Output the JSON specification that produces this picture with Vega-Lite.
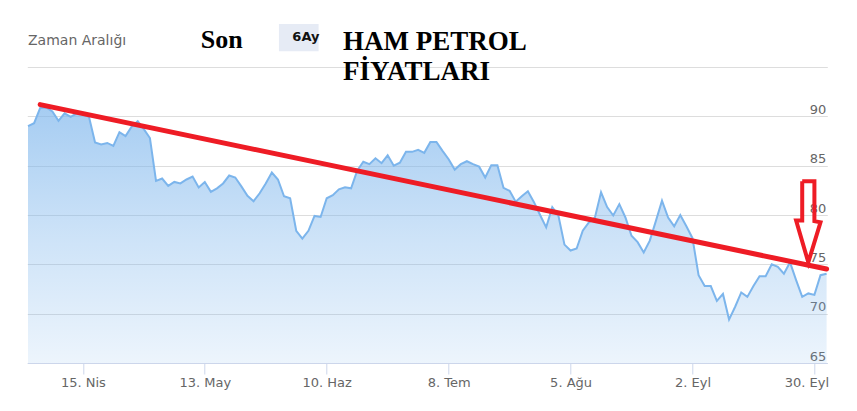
{
  "$schema": "https://vega.github.io/schema/vega-lite/v6.json",
  "width": 800,
  "height": 296,
  "autosize": "none",
  "padding": {"left": 27.3, "top": 67, "right": 29.7, "bottom": 48},
  "background": "white",
  "config": {"view": {"stroke": null}, "font": "DejaVu Sans"},
  "datasets": {
    "brent": [
      {"date": "2024-04-02", "price": 89.0}, {"date": "2024-04-03", "price": 89.3}, {"date": "2024-04-04", "price": 90.85}, {"date": "2024-04-05", "price": 90.9},
      {"date": "2024-04-08", "price": 90.5}, {"date": "2024-04-09", "price": 89.55}, {"date": "2024-04-10", "price": 90.3}, {"date": "2024-04-11", "price": 89.95}, {"date": "2024-04-12", "price": 90.3},
      {"date": "2024-04-15", "price": 90.2}, {"date": "2024-04-16", "price": 89.95}, {"date": "2024-04-17", "price": 87.35}, {"date": "2024-04-18", "price": 87.15}, {"date": "2024-04-19", "price": 87.3},
      {"date": "2024-04-22", "price": 87.0}, {"date": "2024-04-23", "price": 88.4}, {"date": "2024-04-24", "price": 88.0}, {"date": "2024-04-25", "price": 88.95}, {"date": "2024-04-26", "price": 89.5},
      {"date": "2024-04-29", "price": 88.7}, {"date": "2024-04-30", "price": 87.8}, {"date": "2024-05-01", "price": 83.45}, {"date": "2024-05-02", "price": 83.7}, {"date": "2024-05-03", "price": 82.95},
      {"date": "2024-05-06", "price": 83.35}, {"date": "2024-05-07", "price": 83.2}, {"date": "2024-05-08", "price": 83.6}, {"date": "2024-05-09", "price": 83.9}, {"date": "2024-05-10", "price": 82.8},
      {"date": "2024-05-13", "price": 83.35}, {"date": "2024-05-14", "price": 82.35}, {"date": "2024-05-15", "price": 82.7}, {"date": "2024-05-16", "price": 83.2}, {"date": "2024-05-17", "price": 84.0},
      {"date": "2024-05-20", "price": 83.8}, {"date": "2024-05-21", "price": 82.9}, {"date": "2024-05-22", "price": 81.95}, {"date": "2024-05-23", "price": 81.4}, {"date": "2024-05-24", "price": 82.2},
      {"date": "2024-05-27", "price": 83.2}, {"date": "2024-05-28", "price": 84.3}, {"date": "2024-05-29", "price": 83.6}, {"date": "2024-05-30", "price": 81.9}, {"date": "2024-05-31", "price": 81.7},
      {"date": "2024-06-03", "price": 78.4}, {"date": "2024-06-04", "price": 77.6}, {"date": "2024-06-05", "price": 78.4}, {"date": "2024-06-06", "price": 79.9}, {"date": "2024-06-07", "price": 79.8},
      {"date": "2024-06-10", "price": 81.7}, {"date": "2024-06-11", "price": 82.0}, {"date": "2024-06-12", "price": 82.6}, {"date": "2024-06-13", "price": 82.8}, {"date": "2024-06-14", "price": 82.7},
      {"date": "2024-06-17", "price": 84.5}, {"date": "2024-06-18", "price": 85.4}, {"date": "2024-06-19", "price": 85.15}, {"date": "2024-06-20", "price": 85.75}, {"date": "2024-06-21", "price": 85.25},
      {"date": "2024-06-24", "price": 86.05}, {"date": "2024-06-25", "price": 85.0}, {"date": "2024-06-26", "price": 85.3}, {"date": "2024-06-27", "price": 86.4}, {"date": "2024-06-28", "price": 86.4},
      {"date": "2024-07-01", "price": 86.6}, {"date": "2024-07-02", "price": 86.3}, {"date": "2024-07-03", "price": 87.4}, {"date": "2024-07-04", "price": 87.4}, {"date": "2024-07-05", "price": 86.5},
      {"date": "2024-07-08", "price": 85.65}, {"date": "2024-07-09", "price": 84.6}, {"date": "2024-07-10", "price": 85.15}, {"date": "2024-07-11", "price": 85.45}, {"date": "2024-07-12", "price": 85.15},
      {"date": "2024-07-15", "price": 84.9}, {"date": "2024-07-16", "price": 83.8}, {"date": "2024-07-17", "price": 85.05}, {"date": "2024-07-18", "price": 85.05}, {"date": "2024-07-19", "price": 82.75},
      {"date": "2024-07-22", "price": 82.45}, {"date": "2024-07-23", "price": 81.35}, {"date": "2024-07-24", "price": 81.9}, {"date": "2024-07-25", "price": 82.4}, {"date": "2024-07-26", "price": 81.3},
      {"date": "2024-07-29", "price": 80.0}, {"date": "2024-07-30", "price": 78.75}, {"date": "2024-07-31", "price": 80.8}, {"date": "2024-08-01", "price": 79.95}, {"date": "2024-08-02", "price": 77.0},
      {"date": "2024-08-05", "price": 76.4}, {"date": "2024-08-06", "price": 76.6}, {"date": "2024-08-07", "price": 78.4}, {"date": "2024-08-08", "price": 79.25}, {"date": "2024-08-09", "price": 79.75},
      {"date": "2024-08-12", "price": 82.3}, {"date": "2024-08-13", "price": 80.8}, {"date": "2024-08-14", "price": 79.95}, {"date": "2024-08-15", "price": 81.1}, {"date": "2024-08-16", "price": 79.75},
      {"date": "2024-08-19", "price": 77.9}, {"date": "2024-08-20", "price": 77.25}, {"date": "2024-08-21", "price": 76.2}, {"date": "2024-08-22", "price": 77.4}, {"date": "2024-08-23", "price": 79.4},
      {"date": "2024-08-26", "price": 81.45}, {"date": "2024-08-27", "price": 79.75}, {"date": "2024-08-28", "price": 78.85}, {"date": "2024-08-29", "price": 80.0}, {"date": "2024-08-30", "price": 78.85},
      {"date": "2024-09-02", "price": 77.65}, {"date": "2024-09-03", "price": 73.9}, {"date": "2024-09-04", "price": 72.8}, {"date": "2024-09-05", "price": 72.8}, {"date": "2024-09-06", "price": 71.3},
      {"date": "2024-09-09", "price": 72.0}, {"date": "2024-09-10", "price": 69.4}, {"date": "2024-09-11", "price": 70.7}, {"date": "2024-09-12", "price": 72.15}, {"date": "2024-09-13", "price": 71.7},
      {"date": "2024-09-16", "price": 72.8}, {"date": "2024-09-17", "price": 73.8}, {"date": "2024-09-18", "price": 73.8}, {"date": "2024-09-19", "price": 75.0}, {"date": "2024-09-20", "price": 74.75},
      {"date": "2024-09-23", "price": 74.05}, {"date": "2024-09-24", "price": 75.2}, {"date": "2024-09-25", "price": 73.4}, {"date": "2024-09-26", "price": 71.7}, {"date": "2024-09-27", "price": 72.05},
      {"date": "2024-09-30", "price": 71.9}, {"date": "2024-10-01", "price": 73.9}, {"date": "2024-10-02", "price": 74.05}
    ],
    "trend": [
      {"date": "2024-04-04", "price": 91.19},
      {"date": "2024-10-02", "price": 74.53}
    ],
    "arrow": [
      {"seq": 1, "date": "2024-09-26", "price": 83.42},
      {"seq": 2, "date": "2024-09-30", "price": 83.42},
      {"seq": 3, "date": "2024-09-30", "price": 79.37},
      {"seq": 4, "date": "2024-10-01", "price": 79.25},
      {"seq": 5, "date": "2024-09-27", "price": 75.21},
      {"seq": 6, "date": "2024-09-25", "price": 79.44},
      {"seq": 7, "date": "2024-09-26", "price": 79.44},
      {"seq": 8, "date": "2024-09-26", "price": 83.42}
    ],
    "button": [
      {"start": "2024-05-29", "end": "2024-06-07", "top": 99.37, "bottom": 96.59}
    ],
    "header": [
      {"kind": "label", "text": "Zaman Aralığı", "date": "2024-04-02", "price": 97.27},
      {"kind": "period", "text": "Son", "date": "2024-05-10", "price": 96.93},
      {"kind": "button", "text": "6Ay", "date": "2024-06-05", "price": 97.6},
      {"kind": "title", "text": "HAM PETROL", "date": "2024-06-13", "price": 96.76},
      {"kind": "title", "text": "FİYATLARI", "date": "2024-06-13", "price": 93.72}
    ]
  },
  "layer": [
    {
      "data": {"name": "brent"},
      "mark": {
        "type": "area",
        "color": {
          "gradient": "linear", "x1": 0, "y1": 0, "x2": 0, "y2": 1,
          "stops": [
            {"offset": 0, "color": "rgba(124,181,236,0.97)"},
            {"offset": 0.5, "color": "rgba(124,181,236,0.55)"},
            {"offset": 1, "color": "rgba(124,181,236,0.2)"}
          ]
        },
        "line": {"color": "#7cb5ec", "strokeWidth": 2}
      },
      "encoding": {
        "x": {
          "field": "date", "type": "ordinal",
          "scale": {"type": "point", "padding": 0.115},
          "axis": {
            "orient": "bottom", "title": null, "grid": false,
            "values": ["2024-04-15", "2024-05-13", "2024-06-10", "2024-07-08", "2024-08-05", "2024-09-02", "2024-09-30"],
            "labelExpr": "parseInt(substring(datum.value, 8, 10)) + '. ' + ['Oca','Şub','Mar','Nis','May','Haz','Tem','Ağu','Eyl','Eki','Kas','Ara'][parseInt(substring(datum.value, 5, 7)) - 1]",
            "labelAngle": 0, "labelOverlap": false,
            "domainColor": "#ccd6eb", "tickColor": "#ccd6eb", "tickSize": 11, "labelPadding": 2.5,
            "labelFont": "DejaVu Sans", "labelFontSize": 13, "labelColor": "#666666",
            "labelOffset": {"condition": {"test": "datum.value === '2024-09-30'", "value": -8}, "value": 0},
            "zindex": 1
          }
        },
        "y": {
          "field": "price", "type": "quantitative",
          "scale": {"domain": [65, 95], "nice": false, "zero": false},
          "axis": {
            "orient": "right", "title": null,
            "values": [65, 70, 75, 80, 85, 90, 95],
            "labelExpr": "datum.value == 95 ? '' : datum.label",
            "ticks": false, "tickSize": 0, "domain": false,
            "labelAlign": "right", "labelBaseline": "alphabetic",
            "labelPadding": -1.5, "labelOffset": -3,
            "labelFont": "DejaVu Sans", "labelFontSize": 13, "labelColor": "#666666",
            "gridColor": "#dddddd", "gridWidth": 1
          }
        },
        "y2": {"datum": 65}
      }
    },
    {
      "data": {"name": "trend"},
      "mark": {"type": "line", "color": "#ee1c25", "strokeWidth": 5, "strokeCap": "round"},
      "encoding": {
        "x": {"field": "date", "type": "ordinal"},
        "y": {"field": "price", "type": "quantitative"}
      }
    },
    {
      "data": {"name": "arrow"},
      "mark": {"type": "line", "color": "#ee1c25", "strokeWidth": 4, "strokeJoin": "miter"},
      "encoding": {
        "x": {"field": "date", "type": "ordinal"},
        "y": {"field": "price", "type": "quantitative"},
        "order": {"field": "seq", "type": "quantitative"}
      }
    },
    {
      "data": {"name": "button"},
      "mark": {"type": "rect", "color": "#e6ebf5", "xOffset": 1, "x2Offset": -2},
      "encoding": {
        "x": {"field": "start", "type": "ordinal"},
        "x2": {"field": "end"},
        "y": {"field": "top", "type": "quantitative"},
        "y2": {"field": "bottom"}
      }
    },
    {
      "data": {"name": "header"},
      "transform": [{"filter": "datum.kind == 'label'"}],
      "mark": {"type": "text", "align": "left", "baseline": "alphabetic", "font": "DejaVu Sans", "fontSize": 14, "color": "#666666"},
      "encoding": {
        "x": {"field": "date", "type": "ordinal"},
        "y": {"field": "price", "type": "quantitative"},
        "text": {"field": "text"}
      }
    },
    {
      "data": {"name": "header"},
      "transform": [{"filter": "datum.kind == 'period'"}],
      "mark": {"type": "text", "align": "left", "baseline": "alphabetic", "dx": 2, "font": "Liberation Serif", "fontWeight": "bold", "fontSize": 26, "color": "#000000"},
      "encoding": {
        "x": {"field": "date", "type": "ordinal"},
        "y": {"field": "price", "type": "quantitative"},
        "text": {"field": "text"}
      }
    },
    {
      "data": {"name": "header"},
      "transform": [{"filter": "datum.kind == 'button'"}],
      "mark": {"type": "text", "align": "center", "baseline": "alphabetic", "dx": -2.5, "font": "DejaVu Sans", "fontWeight": "bold", "fontSize": 13, "color": "#111111"},
      "encoding": {
        "x": {"field": "date", "type": "ordinal"},
        "y": {"field": "price", "type": "quantitative"},
        "text": {"field": "text"}
      }
    },
    {
      "data": {"name": "header"},
      "transform": [{"filter": "datum.kind == 'title'"}],
      "mark": {"type": "text", "align": "left", "baseline": "alphabetic", "dx": -2, "font": "Liberation Serif", "fontWeight": "bold", "fontSize": 27, "color": "#000000"},
      "encoding": {
        "x": {"field": "date", "type": "ordinal"},
        "y": {"field": "price", "type": "quantitative"},
        "text": {"field": "text"}
      }
    }
  ]
}
